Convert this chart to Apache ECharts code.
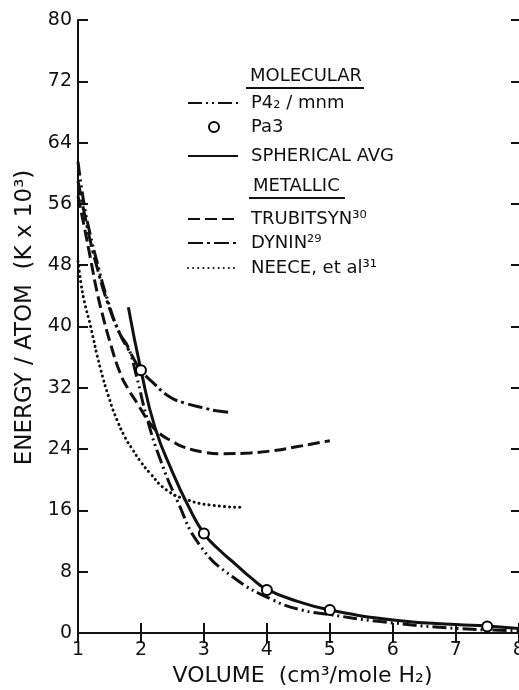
<!DOCTYPE html>
<html>
<head>
<meta charset="utf-8">
<script src="https://cdn.jsdelivr.net/npm/echarts@6/dist/echarts.min.js"></script>
<style>
  html, body { margin: 0; padding: 0; background: #fff; }
  #chart { width: 519px; height: 690px; }
</style>
</head>
<body>
<div id="chart"></div>
<script>
  const FONT = 'DejaVu Sans';
  const INK = '#111';

  // P4_2/mnm (molecular, dash-dot-dot)
  const p42Vol = [1.0, 1.1, 1.2, 1.3, 1.45, 1.65, 1.8, 1.93, 2.09, 2.3, 2.57, 2.94, 3.46, 4.1, 4.55, 5.0, 5.8, 7.0, 8.1];
  const p42Energy = [61.5, 55.8, 51.8, 48.5, 44.0, 39.3, 37.2, 33.5, 28.2, 22.8, 17.4, 11.4, 7.3, 4.3, 3.0, 2.4, 1.5, 0.6, 0.3];

  // Pa3 points
  const pa3Vol = [2, 3, 4, 5, 7.5];
  const pa3Energy = [34.3, 13.0, 5.6, 3.0, 0.85];

  // spherical average
  const sphVol = [1.8, 2.0, 2.22, 2.5, 2.75, 3.0, 3.25, 3.5, 3.75, 4.0, 4.5, 5.0, 6.0, 7.0, 7.5, 8.1];
  const sphEnergy = [42.5, 34.3, 26.9, 21.0, 16.6, 13.0, 10.8, 9.0, 7.2, 5.7, 4.1, 3.0, 1.7, 1.1, 0.9, 0.5];

  // metallic
  const trubVol = [1.0, 1.1, 1.2, 1.3, 1.4, 1.5, 1.67, 1.8, 1.94, 2.14, 2.3, 2.5, 2.67, 3.0, 3.3, 3.73, 4.1, 4.47, 5.0];
  const trubEnergy = [57.0, 53.0, 48.8, 44.6, 41.2, 38.2, 33.9, 31.8, 30.0, 27.4, 26.0, 25.0, 24.3, 23.6, 23.4, 23.5, 23.8, 24.3, 25.1];

  const dyninVol = [1.0, 1.1, 1.2, 1.3, 1.45, 1.65, 1.85, 2.0, 2.2, 2.46, 2.7, 2.98, 3.2, 3.41];
  const dyninEnergy = [59.0, 54.8, 51.0, 47.8, 43.6, 39.3, 36.3, 34.3, 32.6, 30.8, 30.0, 29.4, 29.0, 28.8];

  const neeceVol = [1.0, 1.05, 1.1, 1.2, 1.35, 1.5, 1.62, 1.75, 1.87, 2.0, 2.14, 2.4, 2.73, 3.1, 3.6];
  const neeceEnergy = [48.5, 45.5, 43.3, 40.0, 34.7, 30.5, 27.8, 25.5, 23.9, 22.3, 20.9, 18.7, 17.4, 16.7, 16.4];

  const zip = (xs, ys) => xs.map((x, i) => [x, ys[i]]);

  // legend rows: name, centre y
  const legendRows = [
    ['P4₂ / mnm', 103],
    ['Pa3', 127],
    ['SPHERICAL AVG', 156],
    ['TRUBITSYN³⁰', 219],
    ['DYNIN²⁹', 243],
    ['NEECE, et al³¹', 268],
  ];

  const curve = (name, xs, ys, type, extra) => ({
    name: name,
    type: 'line',
    data: zip(xs, ys),
    smooth: 0.5,
    symbol: 'none',
    clip: true,
    lineStyle: Object.assign({ color: INK, width: 3, type: type }, extra || {}),
    itemStyle: { color: INK },
    z: 3,
  });

  const tickCommon = {
    axisLine: { show: true, lineStyle: { color: INK, width: 2 } },
    axisTick: { show: true, inside: true, length: 10, lineStyle: { color: INK, width: 2 } },
    splitLine: { show: false },
  };

  const chart = echarts.init(document.getElementById('chart'), null, { renderer: 'canvas' });

  const option = {
    animation: false,
    backgroundColor: '#fff',
    grid: { left: 78, top: 20, right: -6, bottom: 57, outerBoundsMode: 'none', containLabel: false },
    xAxis: [
      Object.assign({
        type: 'value', min: 1, max: 8.1, interval: 1, position: 'bottom',
        axisLabel: { color: INK, fontFamily: FONT, fontSize: 19, margin: 8 },
        name: 'VOLUME  (cm³/mole H₂)',
        nameLocation: 'middle',
        nameGap: 29,
        nameTextStyle: { color: INK, fontFamily: FONT, fontSize: 22, padding: [0, 0, 0, 2] },
      }, tickCommon),
      Object.assign({
        type: 'value', min: 1, max: 8.1, interval: 1, position: 'top',
        axisLabel: { show: false },
      }, tickCommon),
    ],
    yAxis: [
      Object.assign({
        type: 'value', min: 0, max: 80, interval: 8, position: 'left',
        axisLabel: { color: INK, fontFamily: FONT, fontSize: 19, margin: 6 },
        name: 'ENERGY / ATOM  (K x 10³)',
        nameLocation: 'middle',
        nameRotate: 90,
        nameGap: 39,
        nameTextStyle: { color: INK, fontFamily: FONT, fontSize: 23, padding: [0, 0, 0, 18] },
      }, tickCommon),
      {
        type: 'value', min: 0, max: 80, interval: 8, position: 'right',
        axisLabel: { show: false },
        axisLine: { show: true, lineStyle: { color: INK, width: 2 } },
        axisTick: { show: true, inside: true, length: 14, lineStyle: { color: INK, width: 2 } },
        splitLine: { show: false },
      },
    ],
    legend: legendRows.map(([name, cy]) => {
      const isPoint = name === 'Pa3';
      return {
        data: [isPoint ? name : { name: name, itemStyle: { opacity: 0 } }],
        orient: 'vertical',
        left: isPoint ? 208 : 187,
        top: cy - 9,
        padding: 0,
        itemWidth: isPoint ? 10 : 50,
        itemHeight: 10,
        selectedMode: false,
        textStyle: { color: INK, fontFamily: FONT, fontSize: 18, padding: [0, 0, 0, isPoint ? 27 : 8] },
      };
    }),
    graphic: [
      { type: 'text', left: 250, top: 67, style: { text: 'MOLECULAR', fill: INK, font: '18px "DejaVu Sans"' } },
      { type: 'line', shape: { x1: 246, y1: 88, x2: 364, y2: 88 }, style: { stroke: INK, lineWidth: 2 } },
      { type: 'text', left: 253, top: 177, style: { text: 'METALLIC', fill: INK, font: '18px "DejaVu Sans"' } },
      { type: 'line', shape: { x1: 249, y1: 198, x2: 345, y2: 198 }, style: { stroke: INK, lineWidth: 2 } },
    ],
    series: [
      curve('P4₂ / mnm', p42Vol, p42Energy, [14, 4, 2, 4, 2, 4]),
      {
        name: 'Pa3',
        type: 'scatter',
        data: zip(pa3Vol, pa3Energy),
        symbol: 'circle',
        symbolSize: 10,
        itemStyle: { color: '#fff', borderColor: '#000', borderWidth: 2, opacity: 1 },
        z: 6,
      },
      curve('SPHERICAL AVG', sphVol, sphEnergy, 'solid'),
      curve('TRUBITSYN³⁰', trubVol, trubEnergy, [12, 5]),
      curve('DYNIN²⁹', dyninVol, dyninEnergy, [15, 4, 3, 4]),
      curve('NEECE, et al³¹', neeceVol, neeceEnergy, [0.1, 5], { cap: 'round' }),
    ],
  };

  chart.setOption(option);
</script>
</body>
</html>
